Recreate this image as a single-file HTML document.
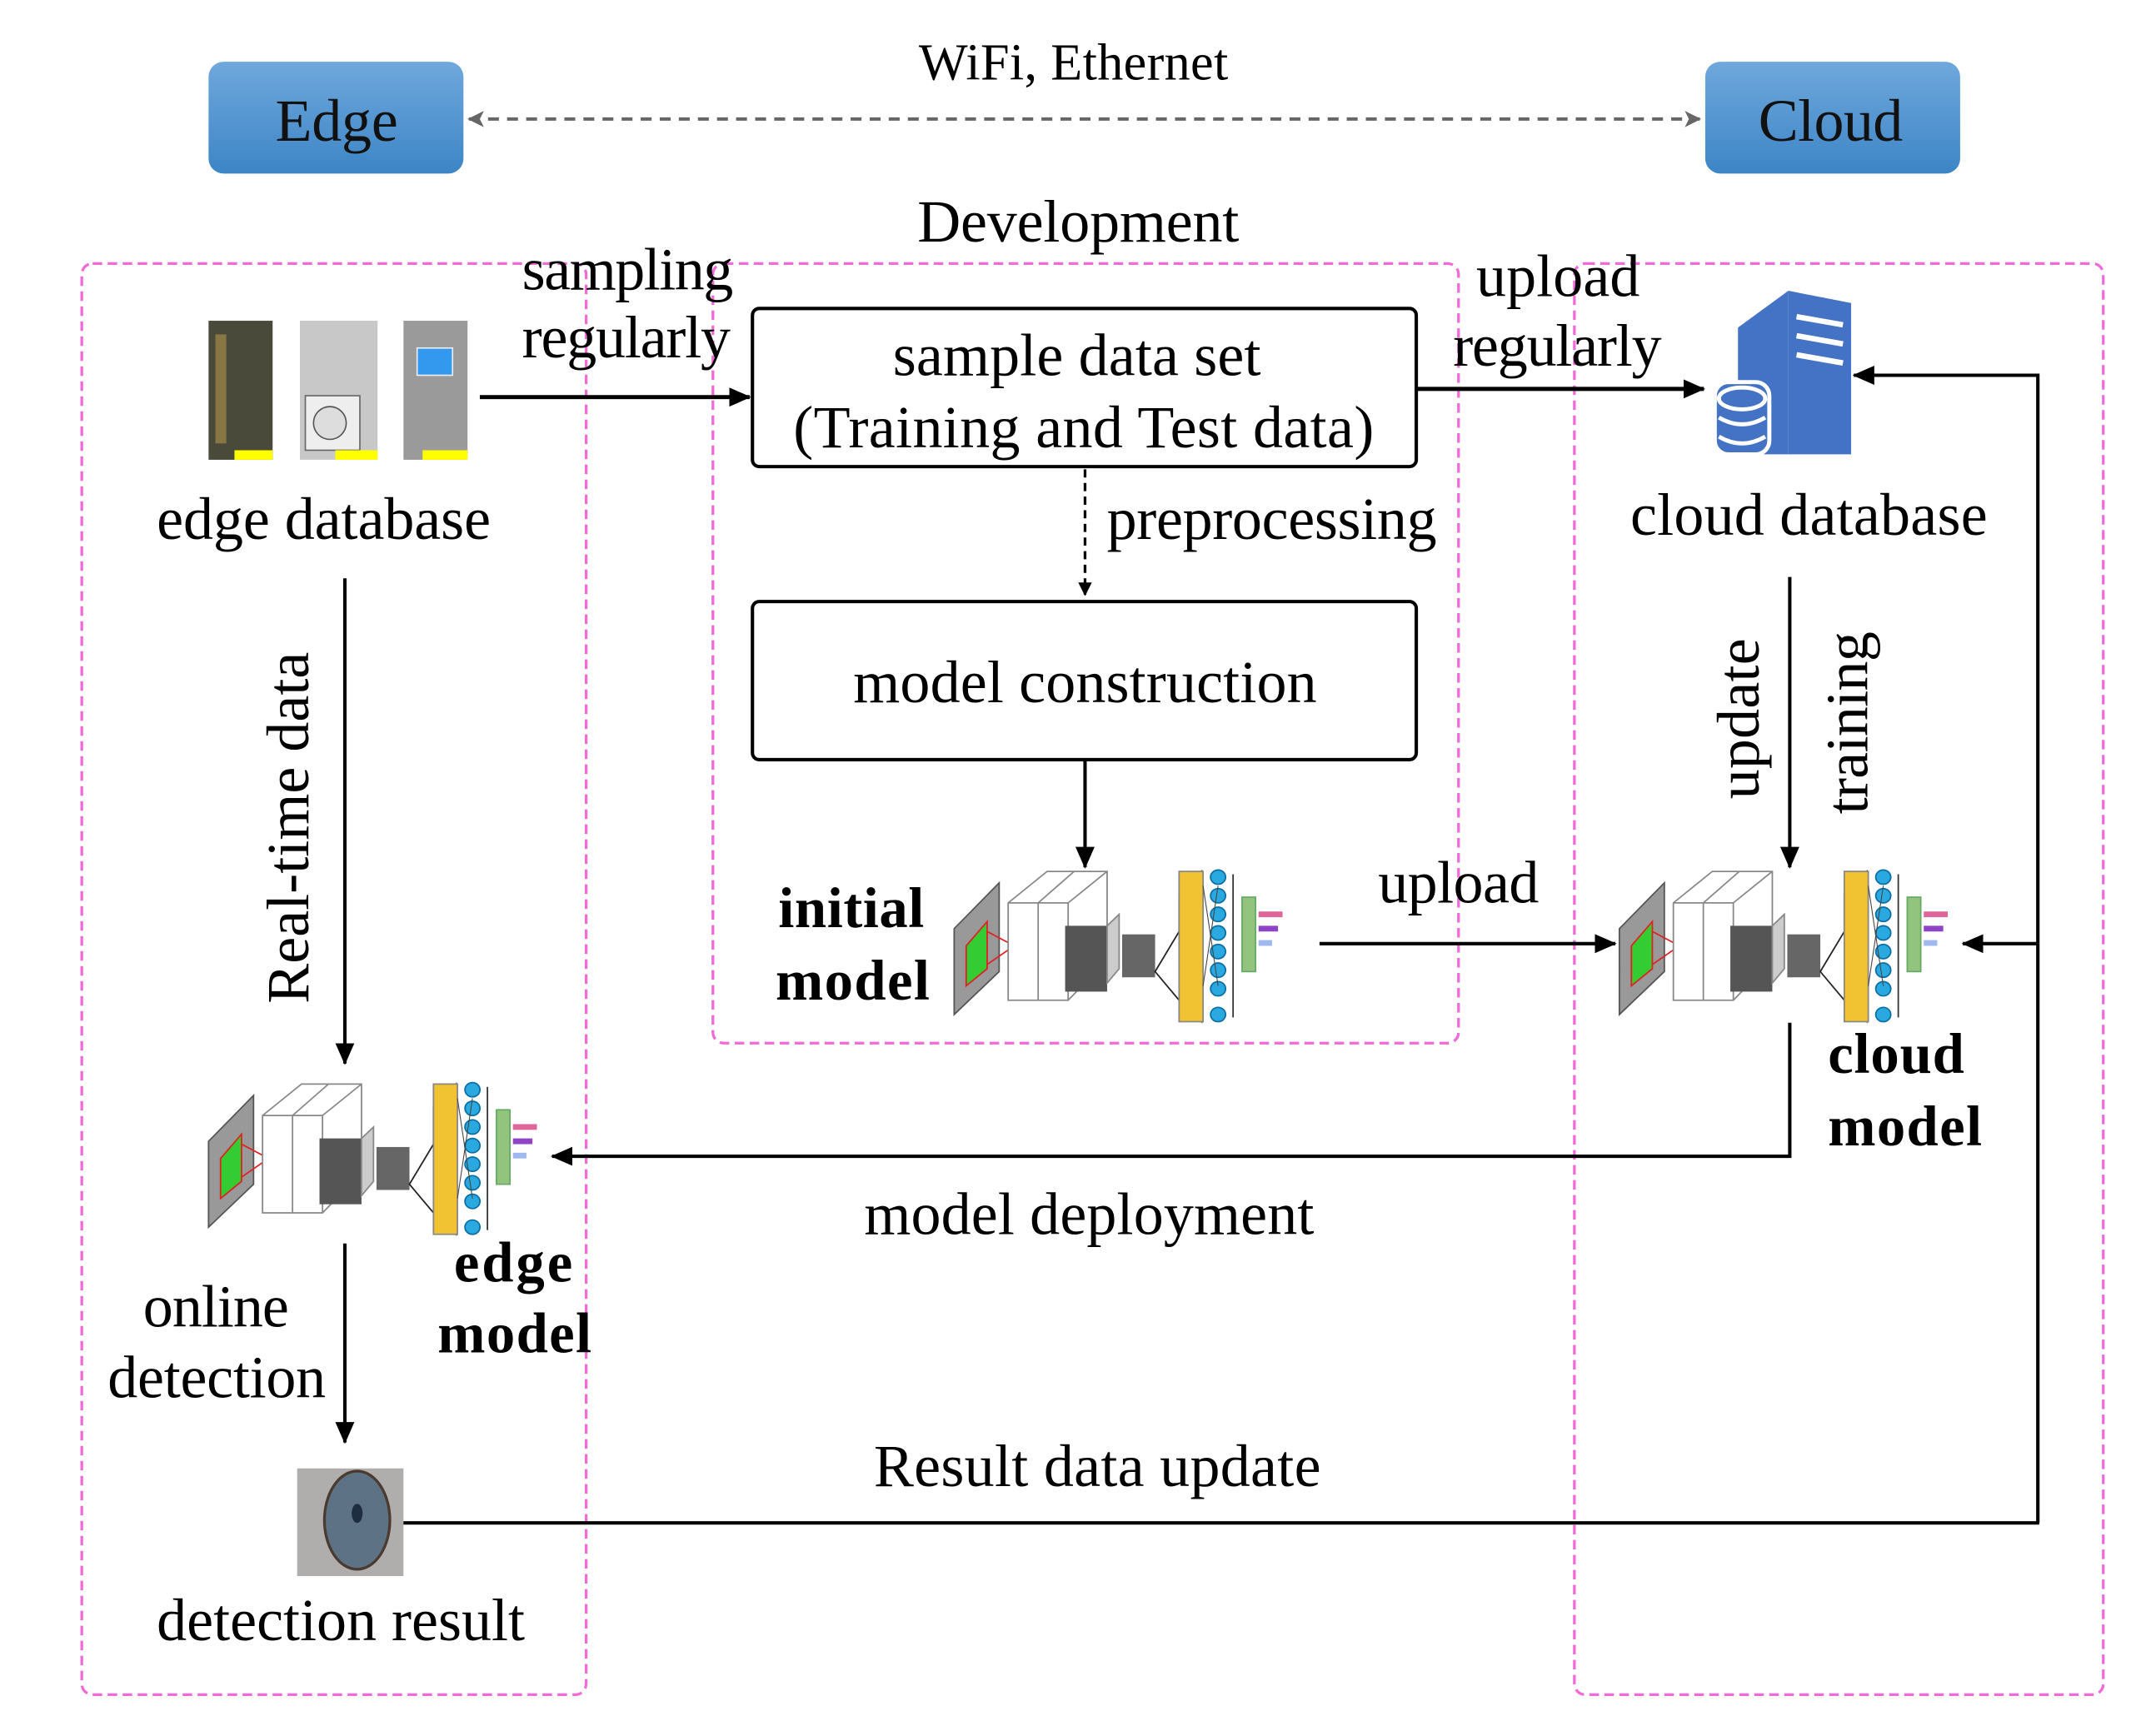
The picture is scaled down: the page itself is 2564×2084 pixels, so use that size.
<!DOCTYPE html>
<html><head><meta charset="utf-8"><style>html,body{margin:0;padding:0;background:#fff}svg{display:block}</style></head>
<body>
<svg width="2564" height="2084" viewBox="0 0 1567 1273" xmlns="http://www.w3.org/2000/svg" font-family="'Liberation Serif', serif">
<defs>
<linearGradient id="bg" x1="0" y1="0" x2="0" y2="1"><stop offset="0" stop-color="#6fa8dc"/><stop offset="1" stop-color="#3d85c6"/></linearGradient>
<marker id="ah" markerWidth="10" markerHeight="10" refX="9" refY="5" orient="auto" markerUnits="userSpaceOnUse"><path d="M0,0 L10,5 L0,10 Z" fill="#000"/></marker>
<marker id="ag" markerWidth="12" markerHeight="12" refX="11" refY="6" orient="auto-start-reverse" markerUnits="userSpaceOnUse"><path d="M0,0 L12,6 L0,12 L3,6 Z" fill="#666"/></marker>
<marker id="ab" markerWidth="16" markerHeight="16" refX="15" refY="8" orient="auto" markerUnits="userSpaceOnUse"><path d="M0,1 L16,8 L0,15 Z" fill="#000"/></marker>
<g id="cnn0">
 <polygon points="0,60 30,28 30,90 0,120" fill="#999" stroke="#555"/>
 <polygon points="8,72 22,55 22,88 8,100" fill="#3c3" stroke="#d22"/>
 <line x1="22" y1="62" x2="40" y2="72" stroke="#d22"/><line x1="22" y1="85" x2="40" y2="72" stroke="#d22"/>
 <circle cx="40" cy="72" r="3" fill="#33c"/>
 <polygon points="36,42 62,20 102,20 102,82 76,110 36,110" fill="#fff" stroke="#888"/>
 <line x1="56" y1="42" x2="56" y2="110" stroke="#888"/><line x1="76" y1="42" x2="76" y2="110" stroke="#888"/>
 <line x1="36" y1="42" x2="76" y2="42" stroke="#888"/><line x1="56" y1="42" x2="80" y2="20" stroke="#888"/><line x1="76" y1="42" x2="102" y2="20" stroke="#888"/>
 <rect x="74" y="58" width="28" height="46" fill="#555"/>
 <polygon points="102,58 110,50 110,88 102,98" fill="#ccc" stroke="#888"/>
 <rect x="112" y="64" width="22" height="30" fill="#666"/>
 <polygon points="134,90 150,62 150,36 165,20 165,125 150,110" fill="none" stroke="#222"/>
 <rect x="150" y="20" width="16" height="105" fill="#f1c232" stroke="#888"/>
 <g fill="#29a9e0" stroke="#0b6fa3">
  <circle cx="176" cy="24" r="5"/><circle cx="176" cy="37" r="5"/><circle cx="176" cy="50" r="5"/><circle cx="176" cy="63" r="5"/><circle cx="176" cy="76" r="5"/><circle cx="176" cy="89" r="5"/><circle cx="176" cy="102" r="5"/><circle cx="176" cy="120" r="5"/>
 </g>
 <line x1="166" y1="30" x2="176" y2="100" stroke="#444" stroke-width=".6"/><line x1="166" y1="100" x2="176" y2="30" stroke="#444" stroke-width=".6"/>
 <line x1="186" y1="22" x2="186" y2="122" stroke="#333"/>
 <rect x="192" y="38" width="9" height="52" fill="#93c47d" stroke="#6a6"/>
 <rect x="203" y="48" width="16" height="4" fill="#e06699"/><rect x="203" y="58" width="13" height="4" fill="#8e44c4"/><rect x="203" y="68" width="9" height="4" fill="#9fb8ef"/>
</g>
<g id="cnn"><g transform="translate(0,-4) scale(1.1,1.05)"><use href="#cnn0"/></g></g>
</defs>

<rect x="153" y="45" width="187" height="82" rx="11" fill="url(#bg)"/>
<text x="247" y="103" font-size="44" text-anchor="middle" fill="#111" textLength="90">Edge</text>
<rect x="1251" y="45" width="187" height="82" rx="11" fill="url(#bg)"/>
<text x="1343" y="103" font-size="44" text-anchor="middle" fill="#111" textLength="106">Cloud</text>
<line x1="344" y1="87" x2="1247" y2="87" stroke="#666" stroke-width="2.5" stroke-dasharray="8,6" marker-start="url(#ag)" marker-end="url(#ag)"/>
<text x="674" y="58" font-size="38" textLength="227">WiFi, Ethernet</text>
<text x="673" y="177" font-size="44" textLength="236">Development</text>

<g fill="none" stroke="#f06ad8" stroke-width="2" stroke-dasharray="7,4">
<rect x="60" y="193" width="370" height="1050" rx="8"/>
<rect x="523" y="193" width="547" height="572" rx="8"/>
<rect x="1155" y="193" width="388" height="1050" rx="8"/>
</g>

<rect x="153" y="235" width="47" height="102" fill="#4a4a3a"/>
<rect x="158" y="245" width="8" height="80" fill="#887744"/>
<rect x="172" y="330" width="28" height="7" fill="#ff0"/>
<rect x="220" y="235" width="57" height="102" fill="#c8c8c8"/>
<rect x="224" y="290" width="40" height="40" fill="#eee" stroke="#666"/>
<circle cx="242" cy="310" r="12" fill="#ddd" stroke="#555"/>
<rect x="246" y="330" width="31" height="7" fill="#ff0"/>
<rect x="296" y="235" width="47" height="102" fill="#9a9a9a"/>
<rect x="306" y="255" width="26" height="20" fill="#3399ee" stroke="#eee"/>
<rect x="310" y="330" width="33" height="7" fill="#ff0"/>
<text x="115" y="395" font-size="44" textLength="245">edge database</text>
<text x="383" y="212" font-size="44" textLength="155">sampling</text>
<text x="383" y="262" font-size="44" textLength="153">regularly</text>
<line x1="352" y1="291" x2="550" y2="291" stroke="#000" stroke-width="3" marker-end="url(#ab)"/>

<rect x="552" y="226" width="487" height="116" rx="5" fill="none" stroke="#000" stroke-width="2.5"/>
<text x="655" y="275" font-size="44" textLength="270">sample data set</text>
<text x="582" y="328" font-size="44" textLength="426">(Training and Test data)</text>
<line x1="1040" y1="285" x2="1250" y2="285" stroke="#000" stroke-width="3" marker-end="url(#ab)"/>
<text x="1083" y="217" font-size="44" textLength="120">upload</text>
<text x="1066" y="268" font-size="44" textLength="153">regularly</text>

<polygon points="1275,240 1312,213 1312,333 1275,333" fill="#4472c4"/>
<polygon points="1312,213 1358,222 1358,333 1312,333" fill="#4472c4"/>
<g stroke="#fff" stroke-width="4"><line x1="1318" y1="232" x2="1352" y2="238"/><line x1="1318" y1="246" x2="1352" y2="252"/><line x1="1318" y1="260" x2="1352" y2="266"/></g>
<rect x="1258" y="280" width="40" height="53" rx="10" fill="#4472c4" stroke="#fff" stroke-width="3"/>
<g fill="none" stroke="#fff" stroke-width="3"><ellipse cx="1278" cy="292" rx="17" ry="8"/><path d="M1261,306 q17,10 34,0"/><path d="M1261,320 q17,10 34,0"/></g>
<text x="1196" y="392" font-size="44" textLength="262">cloud database</text>

<line x1="796" y1="344" x2="796" y2="436" stroke="#000" stroke-width="2" stroke-dasharray="6,4" marker-end="url(#ah)"/>
<text x="812" y="395" font-size="44" textLength="242">preprocessing</text>

<rect x="552" y="441" width="487" height="116" rx="5" fill="none" stroke="#000" stroke-width="2.5"/>
<text x="626" y="515" font-size="44" textLength="340">model construction</text>
<line x1="796" y1="557" x2="796" y2="636" stroke="#000" stroke-width="2.5" marker-end="url(#ab)"/>

<text x="571" y="680" font-size="42" font-weight="bold" textLength="107">initial</text>
<text x="569" y="733" font-size="42" font-weight="bold" textLength="113">model</text>
<use href="#cnn" x="700" y="622"/>
<line x1="968" y1="692" x2="1185" y2="692" stroke="#000" stroke-width="2.5" marker-end="url(#ab)"/>
<text x="1011" y="662" font-size="44" textLength="118">upload</text>

<use href="#cnn" x="1188" y="622"/>
<line x1="1313" y1="423" x2="1313" y2="636" stroke="#000" stroke-width="2.5" marker-end="url(#ab)"/>
<text transform="translate(1290,527) rotate(-90)" font-size="44" text-anchor="middle" textLength="118">update</text>
<text transform="translate(1370,530) rotate(-90)" font-size="44" text-anchor="middle" textLength="134">training</text>
<polyline points="1495,692 1495,275 1360,275" fill="none" stroke="#000" stroke-width="2.5" marker-end="url(#ab)"/>
<line x1="1495" y1="692" x2="1440" y2="692" stroke="#000" stroke-width="2.5" marker-end="url(#ab)"/>
<line x1="1495" y1="692" x2="1495" y2="1117" stroke="#000" stroke-width="2.5"/>
<text x="1341" y="787" font-size="42" font-weight="bold" textLength="100">cloud</text>
<text x="1341" y="840" font-size="42" font-weight="bold" textLength="113">model</text>

<polyline points="1313,750 1313,848 405,848" fill="none" stroke="#000" stroke-width="2.5" marker-end="url(#ab)"/>
<text x="634" y="905" font-size="44" textLength="330">model deployment</text>

<use href="#cnn" x="153" y="778"/>
<text x="333" y="940" font-size="42" font-weight="bold" textLength="87">edge</text>
<text x="321" y="992" font-size="42" font-weight="bold" textLength="113">model</text>

<line x1="253" y1="424" x2="253" y2="780" stroke="#000" stroke-width="2.5" marker-end="url(#ab)"/>
<text transform="translate(226,607) rotate(-90)" font-size="44" text-anchor="middle" textLength="258">Real-time data</text>
<line x1="253" y1="912" x2="253" y2="1058" stroke="#000" stroke-width="2.5" marker-end="url(#ab)"/>
<text x="105" y="973" font-size="44" textLength="107">online</text>
<text x="79" y="1025" font-size="44" textLength="160">detection</text>

<rect x="218" y="1077" width="78" height="79" fill="#b0aeac"/>
<ellipse cx="262" cy="1115" rx="24" ry="36" fill="#5d7385" stroke="#4a3a30" stroke-width="2"/>
<ellipse cx="262" cy="1110" rx="4" ry="7" fill="#1e2e40"/>
<text x="115" y="1203" font-size="44" textLength="270">detection result</text>
<line x1="296" y1="1117" x2="1496" y2="1117" stroke="#000" stroke-width="2.5"/>
<text x="641" y="1090" font-size="44" textLength="328">Result data update</text>
</svg>
</body></html>
